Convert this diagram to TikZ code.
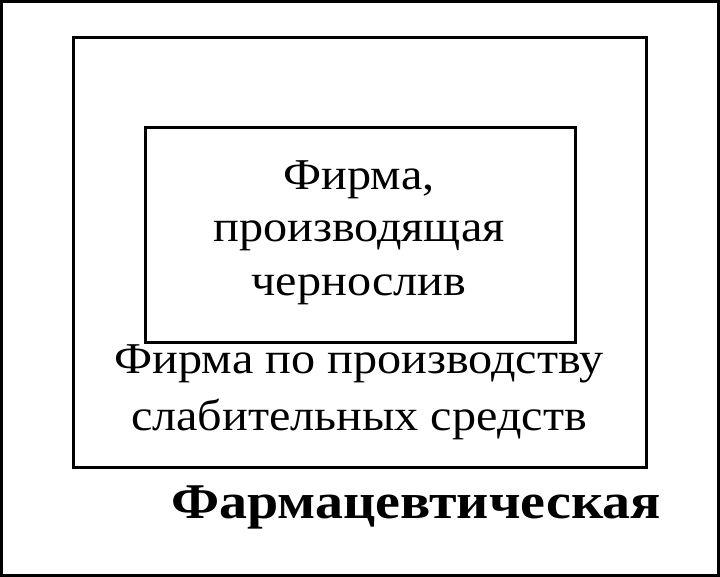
\documentclass[tikz,border=0pt]{standalone}
\usepackage{fontspec}
\setmainfont{Liberation Serif}[FakeStretch=1.095,BoldFeatures={FakeStretch=1.12}]
\begin{document}
\begin{tikzpicture}[x=1pt,y=-1pt,
  frame/.style={draw=black,line width=3pt},
  lbl/.style={anchor=base,inner sep=0pt,font=\fontsize{44}{52}\selectfont},
  blbl/.style={anchor=base,inner sep=0pt,font=\fontsize{50}{58}\selectfont\bfseries}]
\useasboundingbox (0,0) rectangle (720,577);
\fill[white] (0,0) rectangle (720,577);
\draw[frame] (1.5,1.5) rectangle (718,575);
\draw[frame] (73.5,37.5) rectangle (646,467.5);
\draw[frame] (145.5,127.5) rectangle (575,342);
\node[lbl] (i1) at (359,190) {Фирма,};
\node[lbl] (i2) at (359,242) {производящая};
\node[lbl] (i3) at (359,295) {чернослив};
\node[lbl] (m1) at (359,373) {Фирма по производству};
\node[lbl] (m2) at (359,430) {слабительных средств};
\node[blbl] (o1) at (416,518) {Фармацевтическая};
\end{tikzpicture}
\end{document}
